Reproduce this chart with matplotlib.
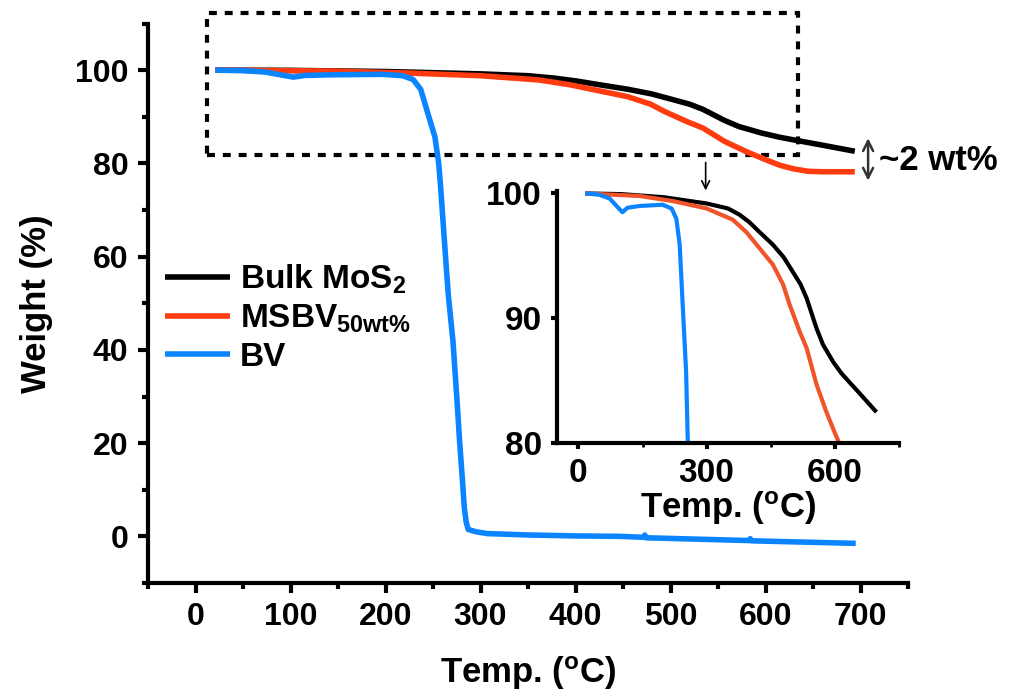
import matplotlib
matplotlib.use('agg')
from matplotlib import pyplot as plt
from matplotlib.patches import Rectangle
from matplotlib.ticker import MultipleLocator

# TGA curves (temperature in degC, weight in %)
bulk_t = [21, 100, 200, 300, 350, 377, 400, 424, 455, 480, 502, 520, 534, 557, 572,
          596, 615, 636, 660, 694]
bulk_w = [100, 99.95, 99.7, 99.2, 98.8, 98.3, 97.7, 96.9, 95.9, 94.9, 93.7, 92.7, 91.6,
          89.2, 87.9, 86.5, 85.6, 84.8, 83.9, 82.6]

msbv_t = [21, 143, 220, 300, 361, 393, 424, 455, 479, 494, 518, 534, 557, 580, 600,
          615, 630, 645, 660, 694]
msbv_w = [100, 99.8, 99.4, 98.8, 97.9, 96.9, 95.6, 94.3, 92.7, 91.1, 88.9, 87.6, 84.7,
          82.5, 80.8, 79.6, 78.8, 78.3, 78.2, 78.2]

bv_t = [21, 49, 73, 92, 103, 115, 143, 197, 218, 229, 237, 244, 252, 256, 258, 262,
        266, 271, 275, 278, 281, 283, 285, 287, 295, 307, 350, 400, 447, 472, 473,
        474, 583, 584, 585, 695]
bv_w = [100, 99.9, 99.6, 98.9, 98.5, 98.86, 99.0, 99.1, 98.8, 98.0, 95.9, 91.1, 85.7,
        80, 75, 63.4, 52, 41.9, 30, 20.4, 12, 6, 3, 1.5, 1.0, 0.6, 0.3, 0.1, 0.0,
        -0.2, 0.3, -0.3, -0.9, -0.5, -0.95, -1.5]

labels = [r'Bulk MoS$_2$', r'MSBV$_{50wt\%}$', 'BV']
colors = ['#000000', '#FF3C0F', '#0A84FF']
inset_colors = ['#000000', '#F0542A', '#0A84FF']

plt.rcParams['font.family'] = ['Liberation Sans', 'DejaVu Sans']
plt.rcParams['font.weight'] = 'bold'
plt.rcParams['axes.labelweight'] = 'bold'
plt.rcParams['mathtext.fontset'] = 'custom'
plt.rcParams['mathtext.rm'] = 'Liberation Sans:bold'
plt.rcParams['mathtext.bf'] = 'Liberation Sans:bold'
plt.rcParams['mathtext.default'] = 'bf'

fig = plt.figure(figsize=(10.13, 6.97), dpi=100)

# 主图
ax = fig.add_axes([148 / 1013, 1 - 583 / 697, 760 / 1013, 559.5 / 697])
series = [(bulk_t, bulk_w), (msbv_t, msbv_w), (bv_t, bv_w)]
for (t, w), c, lab in zip(series, colors, labels):
    ax.plot(t, w, color=c, lw=4, label=lab, solid_capstyle='butt', solid_joinstyle='round')

ax.set_xlim(-50, 750)
ax.set_ylim(-10, 110)
ax.xaxis.set_major_locator(MultipleLocator(100))
ax.xaxis.set_minor_locator(MultipleLocator(50))
ax.yaxis.set_major_locator(MultipleLocator(20))
ax.yaxis.set_minor_locator(MultipleLocator(10))
for s in ['top', 'right']:
    ax.spines[s].set_visible(False)
for s in ['left', 'bottom']:
    ax.spines[s].set_linewidth(3)
ax.tick_params(which='major', direction='out', length=7, width=3, labelsize=23, pad=7)
ax.tick_params(which='minor', direction='out', length=4, width=3)
ax.set_xlabel('Temp. ($^{o}$C)', fontsize=25, labelpad=16)
ax.set_ylabel('Weight (%)', fontsize=25, labelpad=16)

ax.add_patch(Rectangle((12.6, 81.9), 622, 30.4, fill=False, ec='black', lw=3,
                       ls=(0, (1.9, 1.9)), clip_on=False))
ax.annotate('', xy=(708, 76.3), xytext=(708, 85.4),
            arrowprops=dict(arrowstyle='<->', color='#333333', lw=1.8,
                            mutation_scale=18, shrinkA=0, shrinkB=0))
ax.text(719, 80.6, '~2 wt%', fontsize=25, ha='left', va='center')
ax.annotate('', xy=(537, 74.2), xytext=(537, 80.2),
            arrowprops=dict(arrowstyle='->', color='black', lw=1.2,
                            mutation_scale=14, shrinkA=0, shrinkB=0))

ax.legend(loc='upper left', bbox_to_anchor=(0.022, 0.572), frameon=False,
          fontsize=24, handlelength=1.95, handletextpad=0.3, labelspacing=0.2,
          borderpad=0, borderaxespad=0)

# 插图
ins = fig.add_axes([557 / 1013, 1 - 443 / 697, 342 / 1013, 252 / 697])
for (t, w), c in zip(series, inset_colors):
    ins.plot(t, w, color=c, lw=3, solid_joinstyle='round')
ins.set_xlim(-50, 750)
ins.set_ylim(80, 100.2)
ins.xaxis.set_major_locator(MultipleLocator(300))
ins.xaxis.set_minor_locator(MultipleLocator(150))
ins.yaxis.set_major_locator(MultipleLocator(10))
for s in ['top', 'right']:
    ins.spines[s].set_visible(False)
for s in ['left', 'bottom']:
    ins.spines[s].set_linewidth(3)
ins.tick_params(which='major', direction='out', length=4, width=3, labelsize=24, pad=7)
ins.tick_params(which='minor', direction='out', length=3, width=2)
ins.set_xlabel('Temp. ($^{o}$C)', fontsize=25, labelpad=0)
ins.patch.set_alpha(0)

plt.savefig('out.png', dpi=100)
